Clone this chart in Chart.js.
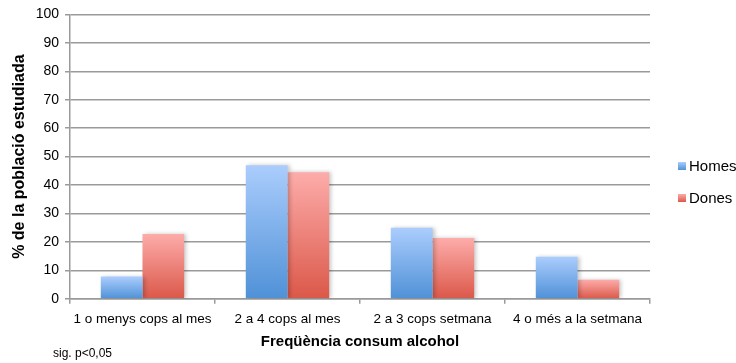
<!DOCTYPE html>
<html>
<head>
<meta charset="utf-8">
<script src="https://cdn.jsdelivr.net/npm/chart.js@4/dist/chart.umd.min.js"></script>
<style>
  html, body { margin: 0; padding: 0; background: #fff; }
  #wrap { position: relative; width: 736px; height: 363px; }
</style>
</head>
<body>
<div id="wrap"><canvas id="c" width="736" height="363"></canvas></div>
<script>
// Freqüència de consum d'alcohol per sexe (% de la població estudiada)
const categories = ['1 o menys cops al mes', '2 a 4 cops al mes', '2 a 3 cops setmana', '4 o més a la setmana'];
const homes = [7.8, 47, 25, 14.8];
const dones = [22.8, 44.5, 21.4, 6.7];
const seriesNames = ['Homes', 'Dones'];
const yTicks = [0, 10, 20, 30, 40, 50, 60, 70, 80, 90, 100];

const FONT = '"Liberation Sans", Arial, sans-serif';
const palette = {
  Homes: { top: '#abcdfd', bottom: '#4f91d7' },
  Dones: { top: '#fdacaa', bottom: '#db5849' }
};

// Vertical gradient per bar: light at the top of the bar, dark at its base
function barGradient(name) {
  return function (ctx) {
    const chart = ctx.chart;
    const area = chart.chartArea;
    if (!area || ctx.type !== 'data') return palette[name].bottom;
    const y = chart.scales.y;
    const top = y.getPixelForValue(ctx.raw);
    const base = y.getPixelForValue(0);
    const g = chart.ctx.createLinearGradient(0, top, 0, base);
    g.addColorStop(0, palette[name].top);
    g.addColorStop(1, palette[name].bottom);
    return g;
  };
}

// Soft shadow behind the bars
const barShadow = {
  id: 'barShadow',
  beforeDatasetsDraw(chart) {
    const c = chart.ctx;
    c.save();
    c.shadowColor = 'rgba(0,0,0,0.22)';
    c.shadowBlur = 4;
    c.shadowOffsetX = 2;
    c.shadowOffsetY = 0;
  },
  afterDatasetsDraw(chart) { chart.ctx.restore(); }
};

// Legend at the right and the footnote
const sideLegend = {
  id: 'sideLegend',
  afterDraw(chart) {
    const c = chart.ctx;
    const x = 678, ys = [166, 198];
    c.save();
    chart.data.datasets.forEach((ds, i) => {
      const p = palette[ds.label];
      const g = c.createLinearGradient(0, ys[i] - 4, 0, ys[i] + 4);
      g.addColorStop(0, p.top);
      g.addColorStop(1, p.bottom);
      c.fillStyle = g;
      c.fillRect(x, ys[i] - 4, 8, 8);
      c.fillStyle = '#000';
      c.font = '15px ' + FONT;
      c.textBaseline = 'middle';
      c.textAlign = 'left';
      c.fillText(ds.label, x + 11, ys[i] + 1);
    });
    c.font = '12px ' + FONT;
    c.fillStyle = '#000';
    c.textBaseline = 'middle';
    c.fillText('sig. p<0,05', 53, 354);
    c.restore();
  }
};

new Chart(document.getElementById('c'), {
  type: 'bar',
  data: {
    labels: categories,
    datasets: [
      { label: seriesNames[0], data: homes, backgroundColor: barGradient('Homes'), borderWidth: 0 },
      { label: seriesNames[1], data: dones, backgroundColor: barGradient('Dones'), borderWidth: 0 }
    ]
  },
  options: {
    responsive: false,
    animation: false,
    layout: { padding: { left: 2, right: 86, top: 8, bottom: 14 } },
    datasets: { bar: { categoryPercentage: 0.575, barPercentage: 1.0 } },
    plugins: {
      legend: { display: false },
      tooltip: { enabled: false }
    },
    scales: {
      x: {
        grid: { display: true, drawOnChartArea: false, offset: true, color: '#9a9a9a', lineWidth: 1.5, tickLength: 5 },
        border: { color: '#9a9a9a', width: 1.5 },
        ticks: { color: '#000', font: { family: FONT, size: 13.5 }, padding: 7, maxRotation: 0, autoSkip: false },
        title: { display: true, text: 'Freqüència consum alcohol', color: '#000', font: { family: FONT, size: 15, weight: 'bold', lineHeight: 1 }, padding: { top: 0, bottom: 0 } }
      },
      y: {
        min: 0, max: 100,
        afterBuildTicks(axis) { axis.ticks = yTicks.map(v => ({ value: v })); },
        afterFit(axis) { axis.width = 68; },
        grid: { color: '#9a9a9a', lineWidth: 1.5, tickLength: 5 },
        border: { color: '#9a9a9a', width: 1.5 },
        ticks: { color: '#000', font: { family: FONT, size: 14 }, padding: 6 },
        title: { display: true, text: '% de la població estudiada', color: '#000', font: { family: FONT, size: 16, weight: 'bold' }, padding: { top: 8, bottom: 0 } }
      }
    }
  },
  plugins: [barShadow, sideLegend]
});
</script>
</body>
</html>
